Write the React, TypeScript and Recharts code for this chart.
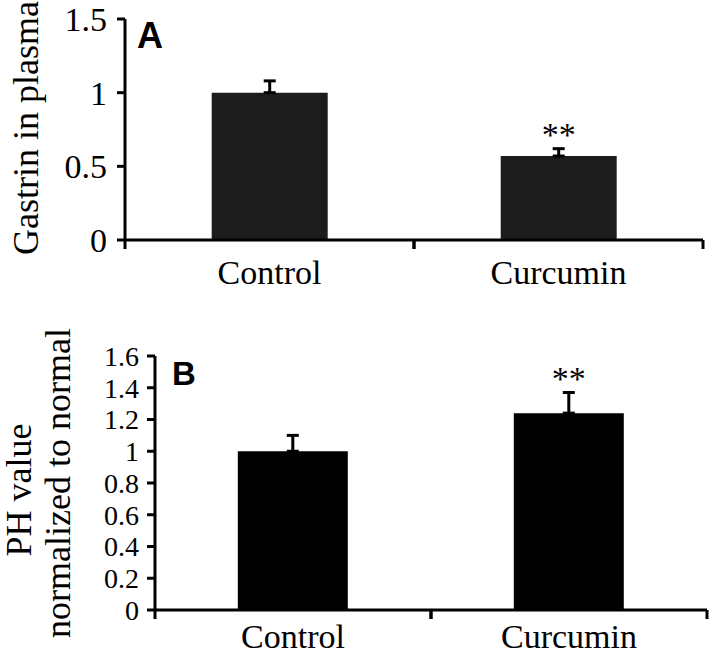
import React from 'react';
import { BarChart, Bar, XAxis, YAxis, ErrorBar, LabelList, Customized } from 'recharts';

const groups = ['Control', 'Curcumin'];

// Panel A: gastrin in plasma
const gastrin = [1.0, 0.57];
const gastrinErr = [0.08, 0.05];
const gastrinStars = ['', '**'];
const gastrinTicks = [0, 0.5, 1, 1.5];

// Panel B: PH value
const ph = [1.0, 1.24];
const phErr = [0.1, 0.13];
const phStars = ['', '**'];
const phTicks = [0, 0.2, 0.4, 0.6, 0.8, 1, 1.2, 1.4, 1.6];

const serif = '"Liberation Serif", "Times New Roman", serif';
const sans = '"Liberation Sans", Arial, sans-serif';

const buildRows = (vals: number[], errs: number[], stars: string[]) =>
  groups.map((g, i) => ({ name: g, value: vals[i], err: [0, errs[i]], stars: stars[i], up: errs[i] }));

const makeXTick = (baseline: number) => (props: any) => {
  const { x, y, payload, width } = props;
  const band = width / groups.length;
  return (
    <g>
      <line x1={x - band / 2} y1={y} x2={x - band / 2} y2={y + 9} stroke="#000" strokeWidth={3} />
      <line x1={x + band / 2} y1={y} x2={x + band / 2} y2={y + 9} stroke="#000" strokeWidth={3} />
      <text x={x} y={y + baseline} textAnchor="middle" fontFamily={serif} fontSize={34} fill="#000">
        {payload.value}
      </text>
    </g>
  );
};

const makeStars = (rows: any[]) => (props: any) => {
  const { x, y, width, height, index } = props;
  const row = rows[index];
  if (!row || !row.stars) return null;
  const perUnit = height / row.value;
  const top = y - row.up * perUnit;
  return (
    <text x={x + width / 2} y={top - 3} textAnchor="middle" fontFamily={serif} fontSize={34} fill="#000">
      {row.stars}
    </text>
  );
};

const rowsA = buildRows(gastrin, gastrinErr, gastrinStars);
const rowsB = buildRows(ph, phErr, phStars);

export default function App() {
  return (
    <div style={{ position: 'absolute', left: 0, top: 0, width: 709, height: 656, background: '#fff' }}>
      <BarChart
        width={709}
        height={320}
        data={rowsA}
        margin={{ top: 19, right: 6, bottom: 0, left: 0 }}
        barCategoryGap="30%"
      >
        <XAxis
          dataKey="name"
          height={80}
          tickLine={false}
          tickSize={0}
          tickMargin={0}
          axisLine={{ stroke: '#000', strokeWidth: 3 }}
          tick={makeXTick(44)}
        />
        <YAxis
          width={125}
          domain={[0, 1.5]}
          ticks={gastrinTicks}
          interval={0}
          tickSize={8}
          tickMargin={10}
          axisLine={{ stroke: '#000', strokeWidth: 3 }}
          tickLine={{ stroke: '#000', strokeWidth: 3 }}
          tick={{ fill: '#000', fontFamily: serif, fontSize: 34 }}
        />
        <Bar dataKey="value" fill="#1c1c1c" isAnimationActive={false}>
          <ErrorBar dataKey="err" width={6} stroke="#000" strokeWidth={3} isAnimationActive={false} />
          <LabelList dataKey="stars" content={makeStars(rowsA)} />
        </Bar>
        <Customized
          component={() => (
            <g>
              <text
                x={26}
                y={128}
                transform="rotate(-90, 26, 128)"
                textAnchor="middle"
                dominantBaseline="central"
                fontFamily={serif}
                fontSize={36}
                fill="#000"
              >
                Gastrin in plasma
              </text>
              <text x={137} y={48} fontFamily={sans} fontWeight="bold" fontSize={36} fill="#000">
                A
              </text>
            </g>
          )}
        />
      </BarChart>
      <BarChart
        width={709}
        height={336}
        data={rowsB}
        margin={{ top: 36, right: 2, bottom: 0, left: 0 }}
        barCategoryGap="30%"
      >
        <XAxis
          dataKey="name"
          height={46}
          tickLine={false}
          tickSize={0}
          tickMargin={0}
          axisLine={{ stroke: '#000', strokeWidth: 3 }}
          tick={makeXTick(38)}
        />
        <YAxis
          width={155}
          domain={[0, 1.6]}
          ticks={phTicks}
          interval={0}
          tickSize={8}
          tickMargin={8}
          axisLine={{ stroke: '#000', strokeWidth: 3 }}
          tickLine={{ stroke: '#000', strokeWidth: 3 }}
          tick={{ fill: '#000', fontFamily: serif, fontSize: 28 }}
        />
        <Bar dataKey="value" fill="#000" isAnimationActive={false}>
          <ErrorBar dataKey="err" width={6} stroke="#000" strokeWidth={3} isAnimationActive={false} />
          <LabelList dataKey="stars" content={makeStars(rowsB)} />
        </Bar>
        <Customized
          component={() => (
            <g>
              <text
                x={19}
                y={170}
                transform="rotate(-90, 19, 170)"
                textAnchor="middle"
                dominantBaseline="central"
                fontFamily={serif}
                fontSize={36}
                fill="#000"
              >
                PH value
              </text>
              <text
                x={58}
                y={163}
                transform="rotate(-90, 58, 163)"
                textAnchor="middle"
                dominantBaseline="central"
                fontFamily={serif}
                fontSize={36}
                fill="#000"
              >
                normalized to normal
              </text>
              <text x={172} y={65} fontFamily={sans} fontWeight="bold" fontSize={33} fill="#000">
                B
              </text>
            </g>
          )}
        />
      </BarChart>
    </div>
  );
}
